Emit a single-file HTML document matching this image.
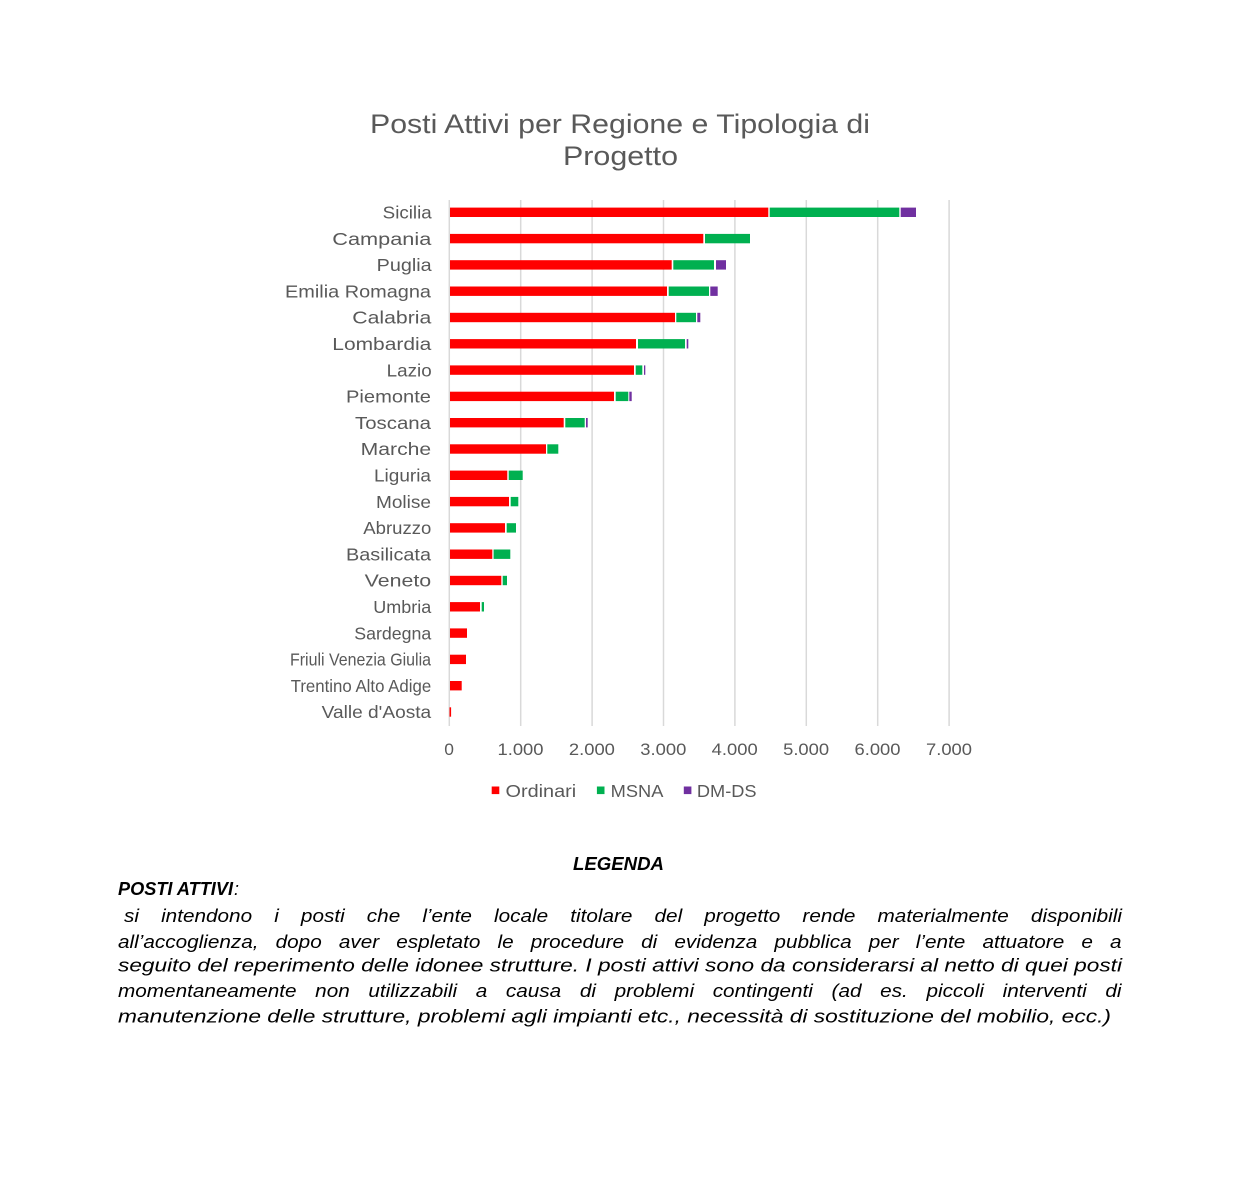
<!DOCTYPE html>
<html>
<head>
<meta charset="utf-8">
<style>
html,body{margin:0;padding:0;background:#fff;}
body{width:1241px;height:1199px;position:relative;overflow:hidden;}
svg{position:absolute;left:0;top:0;}
.j{position:absolute;left:118px;width:896px;font-family:"Liberation Sans",sans-serif;font-style:italic;font-size:18.5px;color:#000;text-align:justify;text-align-last:justify;white-space:nowrap;line-height:20px;transform:scaleX(1.12);transform-origin:0 0;}
</style>
</head>
<body>
<svg width="1241" height="1199" viewBox="0 0 1241 1199" xmlns="http://www.w3.org/2000/svg">
<g font-family="Liberation Sans, sans-serif" fill="#595959">
<text x="370" y="133" font-size="27" textLength="500" lengthAdjust="spacingAndGlyphs">Posti Attivi per Regione e Tipologia di</text>
<text x="563" y="165" font-size="27" textLength="115" lengthAdjust="spacingAndGlyphs">Progetto</text>
</g>
<g stroke="#D9D9D9" stroke-width="1.5">
<line x1="449.3" y1="200" x2="449.3" y2="726"/>
<line x1="520.7" y1="200" x2="520.7" y2="726"/>
<line x1="592.1" y1="200" x2="592.1" y2="726"/>
<line x1="663.5" y1="200" x2="663.5" y2="726"/>
<line x1="734.9" y1="200" x2="734.9" y2="726"/>
<line x1="806.3" y1="200" x2="806.3" y2="726"/>
<line x1="877.7" y1="200" x2="877.7" y2="726"/>
<line x1="949.1" y1="200" x2="949.1" y2="726"/>
</g>
<g>
<rect x="450" y="207.6" width="318.3" height="9.4" fill="#FF0000"/>
<rect x="769.7" y="207.6" width="129.6" height="9.4" fill="#00B050"/>
<rect x="900.7" y="207.6" width="15.3" height="9.4" fill="#7030A0"/>
<rect x="450" y="233.9" width="253.3" height="9.4" fill="#FF0000"/>
<rect x="705" y="233.9" width="45" height="9.4" fill="#00B050"/>
<rect x="450" y="260.2" width="221.7" height="9.4" fill="#FF0000"/>
<rect x="673.3" y="260.2" width="40.7" height="9.4" fill="#00B050"/>
<rect x="716" y="260.2" width="10" height="9.4" fill="#7030A0"/>
<rect x="450" y="286.5" width="217" height="9.4" fill="#FF0000"/>
<rect x="668.7" y="286.5" width="40.3" height="9.4" fill="#00B050"/>
<rect x="710.3" y="286.5" width="7.4" height="9.4" fill="#7030A0"/>
<rect x="450" y="312.8" width="225" height="9.4" fill="#FF0000"/>
<rect x="676.3" y="312.8" width="19.7" height="9.4" fill="#00B050"/>
<rect x="697.3" y="312.8" width="3" height="9.4" fill="#7030A0"/>
<rect x="450" y="339.1" width="186" height="9.4" fill="#FF0000"/>
<rect x="638" y="339.1" width="47" height="9.4" fill="#00B050"/>
<rect x="686.7" y="339.1" width="1.6" height="9.4" fill="#7030A0"/>
<rect x="450" y="365.4" width="184" height="9.4" fill="#FF0000"/>
<rect x="635.7" y="365.4" width="6.6" height="9.4" fill="#00B050"/>
<rect x="644" y="365.4" width="1.3" height="9.4" fill="#7030A0"/>
<rect x="450" y="391.7" width="164" height="9.4" fill="#FF0000"/>
<rect x="615.7" y="391.7" width="12.6" height="9.4" fill="#00B050"/>
<rect x="629.3" y="391.7" width="2.4" height="9.4" fill="#7030A0"/>
<rect x="450" y="418" width="113.7" height="9.4" fill="#FF0000"/>
<rect x="565.3" y="418" width="19.4" height="9.4" fill="#00B050"/>
<rect x="586" y="418" width="1.7" height="9.4" fill="#7030A0"/>
<rect x="450" y="444.3" width="96" height="9.4" fill="#FF0000"/>
<rect x="547.3" y="444.3" width="11" height="9.4" fill="#00B050"/>
<rect x="450" y="470.6" width="57.3" height="9.4" fill="#FF0000"/>
<rect x="508.7" y="470.6" width="14" height="9.4" fill="#00B050"/>
<rect x="450" y="496.9" width="59" height="9.4" fill="#FF0000"/>
<rect x="510.7" y="496.9" width="7.6" height="9.4" fill="#00B050"/>
<rect x="450" y="523.2" width="55" height="9.4" fill="#FF0000"/>
<rect x="506.7" y="523.2" width="9.3" height="9.4" fill="#00B050"/>
<rect x="450" y="549.5" width="42.3" height="9.4" fill="#FF0000"/>
<rect x="493.6" y="549.5" width="16.7" height="9.4" fill="#00B050"/>
<rect x="450" y="575.8" width="51.3" height="9.4" fill="#FF0000"/>
<rect x="502.7" y="575.8" width="4.3" height="9.4" fill="#00B050"/>
<rect x="450" y="602.1" width="30" height="9.4" fill="#FF0000"/>
<rect x="481.7" y="602.1" width="2.3" height="9.4" fill="#00B050"/>
<rect x="450" y="628.4" width="17" height="9.4" fill="#FF0000"/>
<rect x="450" y="654.7" width="16" height="9.4" fill="#FF0000"/>
<rect x="450" y="681" width="11.7" height="9.4" fill="#FF0000"/>
<rect x="449.5" y="707.3" width="1.6" height="9.4" fill="#FF0000"/>
</g>
<g font-family="Liberation Sans, sans-serif" fill="#595959" font-size="17.5">
<text x="382.7" y="218.5" textLength="49" lengthAdjust="spacingAndGlyphs">Sicilia</text>
<text x="332.3" y="244.8" textLength="99" lengthAdjust="spacingAndGlyphs">Campania</text>
<text x="376.7" y="271.1" textLength="55" lengthAdjust="spacingAndGlyphs">Puglia</text>
<text x="285" y="297.4" textLength="146" lengthAdjust="spacingAndGlyphs">Emilia Romagna</text>
<text x="352.3" y="323.7" textLength="79" lengthAdjust="spacingAndGlyphs">Calabria</text>
<text x="332.3" y="350" textLength="99" lengthAdjust="spacingAndGlyphs">Lombardia</text>
<text x="386.7" y="376.3" textLength="45" lengthAdjust="spacingAndGlyphs">Lazio</text>
<text x="346" y="402.6" textLength="85" lengthAdjust="spacingAndGlyphs">Piemonte</text>
<text x="355" y="428.9" textLength="76" lengthAdjust="spacingAndGlyphs">Toscana</text>
<text x="360.7" y="455.2" textLength="70.5" lengthAdjust="spacingAndGlyphs">Marche</text>
<text x="374" y="481.5" textLength="57" lengthAdjust="spacingAndGlyphs">Liguria</text>
<text x="376" y="507.8" textLength="55" lengthAdjust="spacingAndGlyphs">Molise</text>
<text x="363.3" y="534.1" textLength="68" lengthAdjust="spacingAndGlyphs">Abruzzo</text>
<text x="346" y="560.4" textLength="85" lengthAdjust="spacingAndGlyphs">Basilicata</text>
<text x="364.7" y="586.7" textLength="66.5" lengthAdjust="spacingAndGlyphs">Veneto</text>
<text x="373.3" y="613" textLength="58" lengthAdjust="spacingAndGlyphs">Umbria</text>
<text x="354.3" y="639.3" textLength="77" lengthAdjust="spacingAndGlyphs">Sardegna</text>
<text x="290" y="665.6" textLength="141" lengthAdjust="spacingAndGlyphs">Friuli Venezia Giulia</text>
<text x="290.7" y="691.9" textLength="140.5" lengthAdjust="spacingAndGlyphs">Trentino Alto Adige</text>
<text x="321.7" y="718.2" textLength="109.5" lengthAdjust="spacingAndGlyphs">Valle d'Aosta</text>
</g>
<g font-family="Liberation Sans, sans-serif" fill="#595959" font-size="17">
<text x="444.3" y="755" textLength="9.7" lengthAdjust="spacingAndGlyphs">0</text>
<text x="497.5" y="755" textLength="46" lengthAdjust="spacingAndGlyphs">1.000</text>
<text x="568.9" y="755" textLength="46" lengthAdjust="spacingAndGlyphs">2.000</text>
<text x="640.3" y="755" textLength="46" lengthAdjust="spacingAndGlyphs">3.000</text>
<text x="711.7" y="755" textLength="46" lengthAdjust="spacingAndGlyphs">4.000</text>
<text x="783.1" y="755" textLength="46" lengthAdjust="spacingAndGlyphs">5.000</text>
<text x="854.5" y="755" textLength="46" lengthAdjust="spacingAndGlyphs">6.000</text>
<text x="926" y="755" textLength="46" lengthAdjust="spacingAndGlyphs">7.000</text>
</g>
<g>
<rect x="491.7" y="786.5" width="7.6" height="7.6" fill="#FF0000"/>
<rect x="596.9" y="786.5" width="7.6" height="7.6" fill="#00B050"/>
<rect x="683.8" y="786.5" width="7.6" height="7.6" fill="#7030A0"/>
</g>
<g font-family="Liberation Sans, sans-serif" fill="#595959" font-size="17.5">
<text x="505.5" y="797" textLength="70.7" lengthAdjust="spacingAndGlyphs">Ordinari</text>
<text x="610.7" y="797" textLength="52.7" lengthAdjust="spacingAndGlyphs">MSNA</text>
<text x="696.9" y="797" textLength="59.7" lengthAdjust="spacingAndGlyphs">DM-DS</text>
</g>
<g font-family="Liberation Sans, sans-serif" fill="#000" font-style="italic">
<text x="573" y="870" font-size="18" font-weight="bold" textLength="91" lengthAdjust="spacingAndGlyphs">LEGENDA</text>
<text x="118" y="895" font-size="18" font-weight="bold" textLength="115" lengthAdjust="spacingAndGlyphs">POSTI ATTIVI</text>
<text x="234" y="895" font-size="18">:</text>
<text x="118" y="971.7" font-size="18.5" textLength="1004" lengthAdjust="spacingAndGlyphs">seguito del reperimento delle idonee strutture. I posti attivi sono da considerarsi al netto di quei posti</text>
<text x="118" y="1022.7" font-size="18.5" textLength="993" lengthAdjust="spacingAndGlyphs">manutenzione delle strutture, problemi agli impianti etc., necessità di sostituzione del mobilio, ecc.)</text>
</g>
</svg>
<div class="j" style="top:906px;left:124px;width:891px;">si intendono i posti che l’ente locale titolare del progetto rende materialmente disponibili</div>
<div class="j" style="top:931.5px;">all’accoglienza, dopo aver espletato le procedure di evidenza pubblica per l’ente attuatore e a</div>
<div class="j" style="top:981px;">momentaneamente non utilizzabili a causa di problemi contingenti (ad es. piccoli interventi di</div>
</body>
</html>
